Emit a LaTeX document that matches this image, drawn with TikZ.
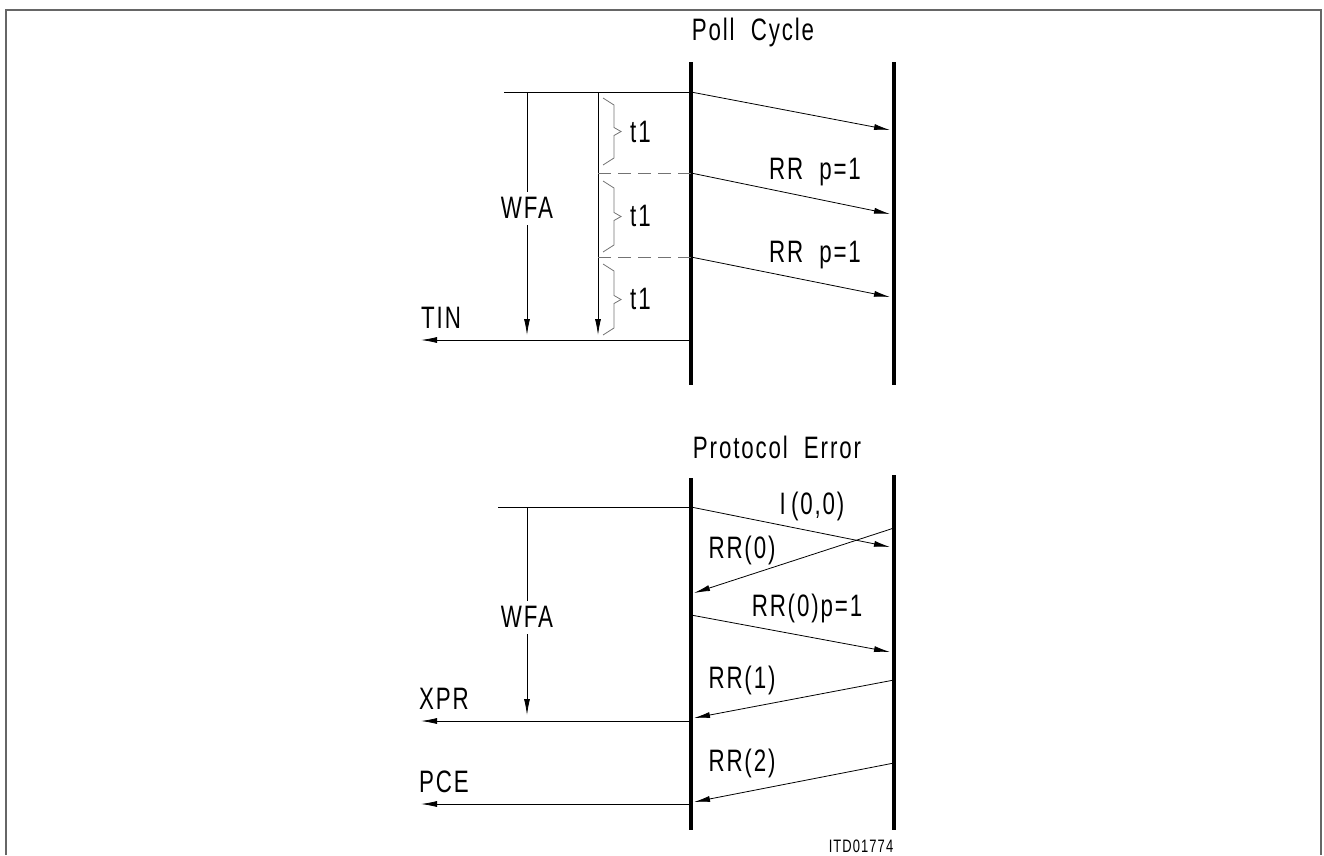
\documentclass[tikz,border=0pt]{standalone}
\usepackage{fontspec}
\setmainfont{Liberation Sans}[FakeStretch=0.72,LetterSpace=6]
\usetikzlibrary{arrows.meta}
\tikzset{
	msg/.style={line width=0.8pt, -{Latex[length=16pt,width=6pt]}},
	life/.style={line width=3.5pt},
	lbl/.style={font=\fontsize{31}{34}\selectfont, inner sep=0pt},
	gap/.style={line width=0.8pt, black!55, dash pattern=on 13pt off 7pt},
}
% brace with tip to the right, from y #1 to y #2
\def\tbrace(#1:#2){\draw[line width=0.8pt, black!55] (603,#1) -- (614,#1+7) -- (614,{(#1+#2)/2-4}) -- (621,{(#1+#2)/2}) -- (614,{(#1+#2)/2+4}) -- (614,#2-7) -- (603,#2);}

\begin{document}
\begin{tikzpicture}[x=1pt,y=-1pt]
		%%%%% START %%%%%
		\useasboundingbox (0,0) rectangle (1324,855);
		\draw[line width=1.5pt, black!60] (6,855) -- (6,10) -- (1321,10) -- (1321,855);
		
		%%%%% poll cycle %%%%%
		\node[lbl] (pollcycle) at (753,32) {Poll\ \ Cycle};
		\coordinate (pa) at (691,62);
		\coordinate (pb) at (691,385);
		\coordinate (qa) at (894,62);
		\coordinate (qb) at (894,385);
		\draw[life] (pa) -- (pb);
		\draw[life] (qa) -- (qb);
		
		\coordinate (ptop) at (504,92);
		\coordinate (pwfa) at (527,92);
		\coordinate (pt) at (598,92);
		\draw[line width=0.8pt] (ptop) -- (691,92);
		\node[lbl] (wfa1) at (527,208) {WFA};
		\draw[line width=0.8pt] (pwfa) -- (527,192);
		\draw[msg] (527,225) -- (527,335);
		\draw[msg] (pt) -- (598,335);
		\draw[gap] (598,173) -- (691,173);
		\draw[gap] (598,257) -- (691,257);
		
		\tbrace(98:165)
		\tbrace(181:252)
		\tbrace(264:335)
		\foreach \y in {132,216,299}
			\node[lbl, anchor=west] at (630,\y) {t1};
		
		\foreach \ya/\yb in {92/130,173/214,257/297}
			\draw[msg] (691,\ya) -- (890,\yb);
		\node[lbl] (rrp1) at (815,172) {RR\ \ p=1};
		\node[lbl] (rrp2) at (815,255) {RR\ \ p=1};
		
		\coordinate (tin) at (421,340);
		\draw[msg] (691,340) -- (tin);
		\node[lbl, anchor=south west] (tinlbl) at (421,329) {TIN};
		
		%%%%% protocol error %%%%%
		\node[lbl] (protoerr) at (777,447) {Protocol\ \ Error};
		\coordinate (ra) at (691,478);
		\coordinate (rb) at (691,830);
		\coordinate (sa) at (894,475);
		\coordinate (sb) at (894,830);
		\draw[life] (ra) -- (rb);
		\draw[life] (sa) -- (sb);
		
		\coordinate (rtop) at (498,507);
		\draw[line width=0.8pt] (rtop) -- (691,507);
		\node[lbl] (wfa2) at (527,617) {WFA};
		\draw[line width=0.8pt] (527,507) -- (527,601);
		\draw[msg] (527,634) -- (527,715);
		
		\draw[msg] (691,507) -- (890,547);
		\node[lbl] (i00) at (812,506) {I\,(0,0)};
		\draw[msg] (894,528) -- (694,593);
		\node[lbl] (rr0) at (742,550) {RR(0)};
		\draw[msg] (691,615) -- (890,652);
		\node[lbl] (rr0p) at (807,608) {RR(0)p=1};
		\draw[msg] (894,680) -- (694,718);
		\node[lbl] (rr1) at (742,680) {RR(1)};
		\draw[msg] (894,763) -- (694,802);
		\node[lbl] (rr2) at (742,763) {RR(2)};
		
		\coordinate (xpr) at (421,721);
		\draw[msg] (691,721) -- (xpr);
		\node[lbl, anchor=south west] (xprlbl) at (419,710) {XPR};
		\coordinate (pce) at (421,804);
		\draw[msg] (691,804) -- (pce);
		\node[lbl, anchor=south west] (pcelbl) at (419,793) {PCE};
		
		\node[font=\fontsize{18}{20}\selectfont, inner sep=0pt, anchor=south] (itd) at (861,853) {ITD01774};
		%%%%% END %%%%%
\end{tikzpicture}
\end{document}
